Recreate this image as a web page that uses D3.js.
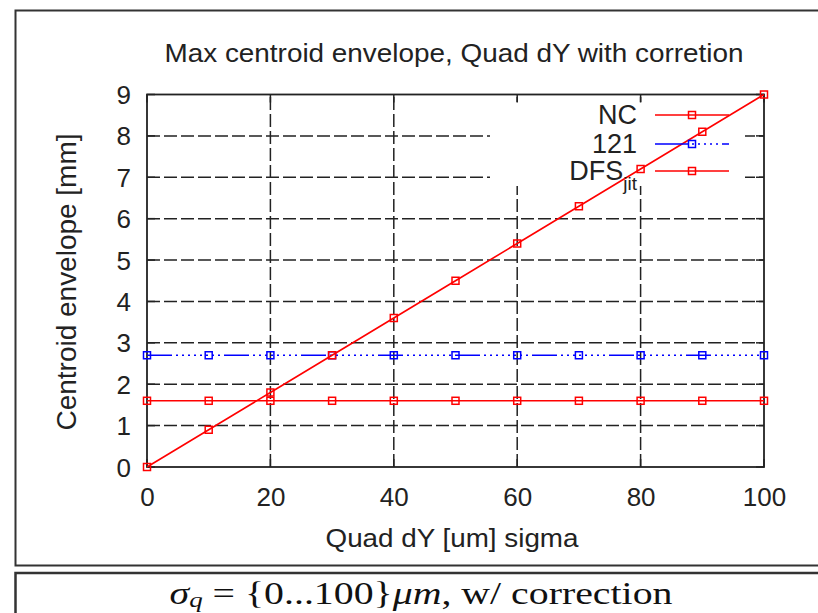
<!DOCTYPE html>
<html><head><meta charset="utf-8">
<script src="https://cdn.jsdelivr.net/npm/d3@7/dist/d3.min.js"></script>
<style>html,body{margin:0;padding:0;background:#fff;}svg{display:block;}</style>
</head><body>
<script>
const xValues = [0, 10, 20, 30, 40, 50, 60, 70, 80, 90, 100];
const ncValues = [0, 0.9, 1.8, 2.7, 3.6, 4.5, 5.4, 6.3, 7.2, 8.1, 9.0];
const v121Values = [2.7, 2.7, 2.7, 2.7, 2.7, 2.7, 2.7, 2.7, 2.7, 2.7, 2.7];
const dfsValues = [1.6, 1.6, 1.6, 1.6, 1.6, 1.6, 1.6, 1.6, 1.6, 1.6, 1.6];
const xTicks = [0, 20, 40, 60, 80, 100];
const yTicks = [0, 1, 2, 3, 4, 5, 6, 7, 8, 9];
const titleText = "Max centroid envelope, Quad dY with corretion";
const xLabel = "Quad dY [um] sigma";
const yLabel = "Centroid envelope [mm]";

const W = 818, H = 613;
const svg = d3.select("body").append("svg").attr("width", W).attr("height", H);
svg.append("rect").attr("width", W).attr("height", H).attr("fill", "#fff");

// frames
svg.append("rect").attr("x", 15.5).attr("y", 10.5).attr("width", 820).attr("height", 555)
  .attr("fill", "none").attr("stroke", "#333").attr("stroke-width", 2);
svg.append("rect").attr("x", 15.5).attr("y", 573).attr("width", 820).attr("height", 60)
  .attr("fill", "none").attr("stroke", "#333").attr("stroke-width", 2.5);

const x = d3.scaleLinear().domain([0, 100]).range([147, 764]);
const y = d3.scaleLinear().domain([0, 9]).range([467, 94.5]);

const font = "'Liberation Sans', Arial, sans-serif";

// grid
const grid = svg.append("g").attr("stroke", "#222").attr("stroke-width", 1.5).attr("stroke-dasharray", "13,4");
grid.selectAll("line.h").data(yTicks.filter(d => d > 0 && d < 9)).join("line")
  .attr("x1", x(0)).attr("x2", x(100)).attr("y1", d => y(d)).attr("y2", d => y(d));
grid.selectAll("line.v").data(xTicks.filter(d => d > 0 && d < 100)).join("line")
  .attr("x1", d => x(d)).attr("x2", d => x(d)).attr("y1", y(0)).attr("y2", y(9));

// legend background (covers grid)
svg.append("rect").attr("x", 490).attr("y", 102).attr("width", 255).attr("height", 84).attr("fill", "#fff");

// mirror ticks
const tk = svg.append("g").attr("stroke", "#222").attr("stroke-width", 1.5);
tk.selectAll("line.t").data(xTicks).join("line")
  .attr("x1", d => x(d)).attr("x2", d => x(d)).attr("y1", y(9)).attr("y2", y(9) + 8);
tk.selectAll("line.b").data(xTicks).join("line")
  .attr("x1", d => x(d)).attr("x2", d => x(d)).attr("y1", y(0)).attr("y2", y(0) - 8);
tk.selectAll("line.r").data(yTicks).join("line")
  .attr("x1", x(100)).attr("x2", x(100) - 8).attr("y1", d => y(d)).attr("y2", d => y(d));
tk.selectAll("line.l").data(yTicks).join("line")
  .attr("x1", x(0)).attr("x2", x(0) + 8).attr("y1", d => y(d)).attr("y2", d => y(d));

// axes border
svg.append("rect").attr("x", x(0)).attr("y", y(9)).attr("width", x(100) - x(0)).attr("height", y(0) - y(9))
  .attr("fill", "none").attr("stroke", "#222").attr("stroke-width", 1.8);

// tick labels via d3 axes (no lines)
const gx = svg.append("g").attr("transform", `translate(0,${y(0)})`)
  .call(d3.axisBottom(x).tickValues(xTicks).tickSize(0).tickPadding(0).tickFormat(d3.format("d")));
gx.select(".domain").remove();
gx.selectAll("text").attr("dy", null).attr("y", 30).attr("dominant-baseline", "central")
  .attr("font-family", font).attr("font-size", 26).attr("fill", "#222");
const gy = svg.append("g").attr("transform", `translate(${x(0)},0)`)
  .call(d3.axisLeft(y).tickValues(yTicks).tickSize(0).tickPadding(0).tickFormat(d3.format("d")));
gy.select(".domain").remove();
gy.selectAll("text").attr("dy", null).attr("x", -16).attr("dominant-baseline", "central")
  .attr("font-family", font).attr("font-size", 26).attr("fill", "#222");

// titles
svg.append("text").attr("x", 454).attr("y", 53).attr("text-anchor", "middle").attr("dominant-baseline", "central")
  .attr("font-family", font).attr("font-size", 26).attr("fill", "#222")
  .attr("textLength", 579).attr("lengthAdjust", "spacingAndGlyphs").text(titleText);
svg.append("text").attr("x", 452).attr("y", 538).attr("text-anchor", "middle").attr("dominant-baseline", "central")
  .attr("font-family", font).attr("font-size", 26).attr("fill", "#222")
  .attr("textLength", 253).attr("lengthAdjust", "spacingAndGlyphs").text(xLabel);
svg.append("text").attr("transform", "translate(67,282) rotate(-90)").attr("text-anchor", "middle").attr("dominant-baseline", "central")
  .attr("font-family", font).attr("font-size", 27).attr("fill", "#222")
  .attr("textLength", 297).attr("lengthAdjust", "spacingAndGlyphs").text(yLabel);

// series
const series = [
  {name: "NC", vals: ncValues, color: "#ff0000", dash: null, ly: 115},
  {name: "121", vals: v121Values, color: "#0000ff", dash: "25,4,2,4,2,4,2,4,2,4,2,4,2,4,2,4,2,4", ly: 144},
  {name: "DFS", vals: dfsValues, color: "#ff0000", dash: null, ly: 171}
];
const line = d3.line().x(d => x(d[0])).y(d => y(d[1]));
const ms = 7;
[series[2], series[1], series[0]].forEach(s => {
  const pts = xValues.map((xv, i) => [xv, s.vals[i]]);
  svg.append("path").attr("d", line(pts)).attr("fill", "none").attr("stroke", s.color)
    .attr("stroke-width", 1.6).attr("stroke-dasharray", s.dash);
  svg.append("g").selectAll("rect").data(pts).join("rect")
    .attr("x", d => x(d[0]) - ms / 2).attr("y", d => y(d[1]) - ms / 2)
    .attr("width", ms).attr("height", ms).attr("fill", "none")
    .attr("stroke", s.color).attr("stroke-width", 1.5);
});

// legend
series.forEach(s => {
  svg.append("line").attr("x1", 655).attr("x2", 729).attr("y1", s.ly).attr("y2", s.ly)
    .attr("stroke", s.color).attr("stroke-width", 1.6).attr("stroke-dasharray", s.dash ? "33,4,2,4,2,4,2,4,2,4,2,4" : null);
  svg.append("rect").attr("x", 692 - ms / 2).attr("y", s.ly - ms / 2).attr("width", ms).attr("height", ms)
    .attr("fill", "none").attr("stroke", s.color).attr("stroke-width", 1.5);
  const t = svg.append("text").attr("x", 637).attr("y", s.ly).attr("text-anchor", "end")
    .attr("dominant-baseline", "central").attr("font-family", font).attr("font-size", 27).attr("fill", "#222");
  if (s.name === "DFS") {
    t.append("tspan").text("DFS");
    t.append("tspan").attr("font-size", 19).attr("dy", 12).text("jit");
  } else {
    t.text(s.name);
  }
});

// caption
const cap = svg.append("text").attr("x", 421).attr("y", 593).attr("text-anchor", "middle")
  .attr("dominant-baseline", "central").attr("font-family", "'Liberation Serif', 'DejaVu Serif', serif")
  .attr("font-size", 31).attr("fill", "#111")
  .attr("textLength", 503).attr("lengthAdjust", "spacingAndGlyphs");
cap.append("tspan").attr("font-style", "italic").text("σ");
cap.append("tspan").attr("font-style", "italic").attr("font-size", 21).attr("dy", 7).text("q");
cap.append("tspan").attr("dy", -7).text(" = {0...100}");
cap.append("tspan").attr("font-style", "italic").text("μm");
cap.append("tspan").text(", w/ correction");
</script>
</body></html>
